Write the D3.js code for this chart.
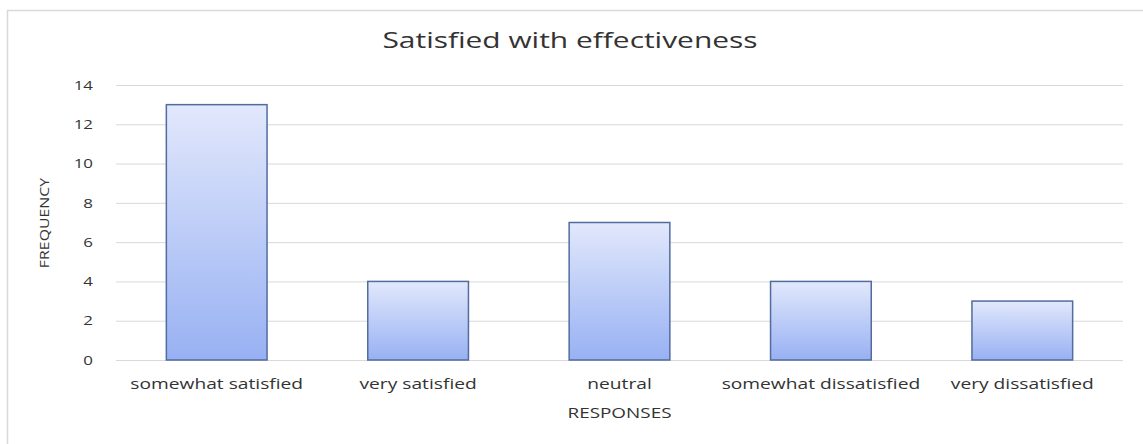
<!DOCTYPE html>
<html>
<head>
<meta charset="utf-8">
<script src="https://cdn.jsdelivr.net/npm/d3@7"></script>
<style>
  html, body { margin: 0; padding: 0; background: #fff; }
  svg { display: block; }
</style>
</head>
<body>
<svg id="chart" width="1143" height="444"></svg>
<script>
const categories = ["somewhat satisfied", "very satisfied", "neutral", "somewhat dissatisfied", "very dissatisfied"];
const frequencies = [13, 4, 7, 4, 3];
const yTicks = [0, 2, 4, 6, 8, 10, 12, 14];
const chartTitle = "Satisfied with effectiveness";
const xTitle = "RESPONSES";
const yTitle = "FREQUENCY";

const svg = d3.select("#chart");
const W = 1143, H = 444;
const font = "'Open Sans', Lato, sans-serif";
const textColor = "#333333";
const stretch = 1.3; // the reference text is horizontally wide

// outer frame
svg.append("rect").attr("x", 7.5).attr("y", 10.5).attr("width", W).attr("height", H)
  .attr("fill", "#fff").attr("stroke", "#d9d9d9").attr("stroke-width", 1.5);

const plot = { left: 116, right: 1123, top: 85, bottom: 360 };

const x = d3.scaleBand().domain(categories).range([plot.left, plot.right]).paddingInner(0.5).paddingOuter(0.25);
const y = d3.scaleLinear().domain([0, 14]).range([plot.bottom, plot.top]);

const defs = svg.append("defs");
const grad = defs.append("linearGradient").attr("id", "barGrad").attr("x1", 0).attr("y1", 0).attr("x2", 0).attr("y2", 1);
grad.append("stop").attr("offset", "0%").attr("stop-color", "#e2e8fc");
grad.append("stop").attr("offset", "100%").attr("stop-color", "#98b1f3");

// gridlines + y tick labels
const yPad = 23;
const yAxis = d3.axisLeft(y).tickValues(yTicks).tickSize(-(plot.right - plot.left)).tickPadding(yPad);
const gy = svg.append("g").attr("transform", `translate(${plot.left},0)`).call(yAxis);
gy.select(".domain").remove();
gy.selectAll(".tick line").attr("stroke", "#d9d9d9").attr("stroke-width", 1);
gy.selectAll(".tick text").attr("font-family", font).attr("font-size", 13)
  .attr("x", -yPad / stretch).attr("transform", `scale(${stretch},1)`).attr("fill", textColor);

// bars
svg.append("g").selectAll("rect").data(categories).join("rect")
  .attr("x", d => x(d))
  .attr("y", (d, i) => y(frequencies[i]))
  .attr("width", x.bandwidth())
  .attr("height", (d, i) => y(0) - y(frequencies[i]))
  .attr("fill", "url(#barGrad)")
  .attr("stroke", "#526c9f")
  .attr("stroke-width", 1.5);

// x axis labels
const xAxis = d3.axisBottom(x).tickSize(0).tickPadding(18);
const gx = svg.append("g").attr("transform", `translate(0,${plot.bottom})`).call(xAxis);
gx.select(".domain").remove();
gx.selectAll(".tick text").attr("font-family", font).attr("font-size", 15)
  .attr("transform", "scale(1.28,1)").attr("fill", textColor);

// titles
svg.append("text").attr("transform", "translate(570,48) scale(1.36,1)").attr("text-anchor", "middle")
  .attr("font-family", font).attr("font-size", 22)
  .attr("fill", textColor).text(chartTitle);
svg.append("text")
  .attr("transform", `translate(${x("neutral") + x.bandwidth() / 2},418) scale(1.35,1)`)
  .attr("text-anchor", "middle")
  .attr("font-family", font).attr("font-size", 14)
  .attr("fill", textColor).text(xTitle);
svg.append("text").attr("transform", "translate(49,223) rotate(-90) scale(1.22,1)").attr("text-anchor", "middle")
  .attr("font-family", font).attr("font-size", 13)
  .attr("fill", textColor).text(yTitle);
</script>
</body>
</html>
